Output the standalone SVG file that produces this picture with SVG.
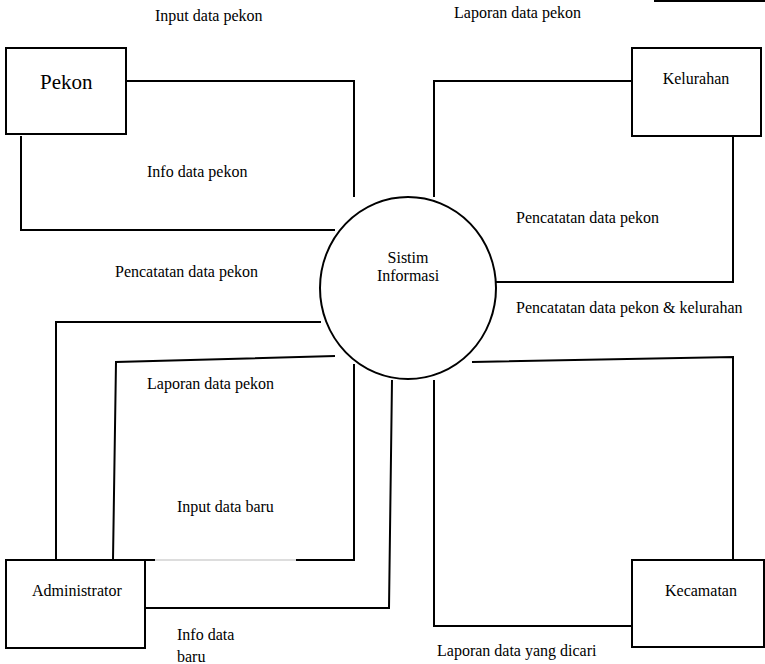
<svg xmlns="http://www.w3.org/2000/svg" width="765" height="664" viewBox="0 0 765 664">
<style>
  .box { fill: #fff; stroke: #000; stroke-width: 2; }
  .ln { fill: none; stroke: #000; stroke-width: 2; }
  .lbl { font-family: "Liberation Serif", "Times New Roman", serif; font-size: 16px; fill: #000; }
  .big { font-size: 21px; }
</style>
<rect width="765" height="664" fill="#fff"/>
<g id="connectors">
  <polyline class="ln" points="126,81 354,81 354,197"/>
  <polyline class="ln" points="21,136 21,230 335,230"/>
  <polyline class="ln" points="632,81 434,81 434,197"/>
  <polyline class="ln" points="733,136 733,282 496,282"/>
  <polyline class="ln" points="321,322 56,322 56,560"/>
  <polyline class="ln" points="335,356 116,362 113,560"/>
  <polyline class="ln" points="354,364 354,560 296,560"/>
  <line class="ln" x1="135" y1="560" x2="155" y2="560"/>
  <line x1="155" y1="560" x2="296" y2="560" stroke="#bbb" stroke-width="1"/>
  <polyline class="ln" points="392,380 389,608 145,608"/>
  <polyline class="ln" points="434,380 434,626 632,626"/>
  <polyline class="ln" points="472,362 733,357 733,560"/>
  <line class="ln" x1="654" y1="1" x2="765" y2="1"/>
</g>
<g id="pekon">
  <rect class="box" x="6" y="48" width="120" height="86"/>
  <text class="lbl big" x="40" y="89">Pekon</text>
</g>
<g id="kelurahan">
  <rect class="box" x="632" y="48" width="129" height="88"/>
  <text class="lbl" x="696" y="84" text-anchor="middle">Kelurahan</text>
</g>
<g id="sistim">
  <ellipse class="box" cx="408" cy="288" rx="88" ry="91"/>
  <text class="lbl" x="408" y="263" text-anchor="middle">Sistim</text>
  <text class="lbl" x="408" y="281" text-anchor="middle">Informasi</text>
</g>
<g id="administrator">
  <rect class="box" x="6" y="560" width="139" height="88"/>
  <text class="lbl" x="32" y="596">Administrator</text>
</g>
<g id="kecamatan">
  <rect class="box" x="632" y="560" width="132" height="87"/>
  <text class="lbl" x="665" y="596">Kecamatan</text>
</g>
<g id="labels">
  <text class="lbl" x="155" y="21">Input data pekon</text>
  <text class="lbl" x="454" y="18">Laporan data pekon</text>
  <text class="lbl" x="147" y="177">Info data pekon</text>
  <text class="lbl" x="516" y="223">Pencatatan data pekon</text>
  <text class="lbl" x="115" y="277">Pencatatan data pekon</text>
  <text class="lbl" x="516" y="313">Pencatatan data pekon &amp; kelurahan</text>
  <text class="lbl" x="147" y="389">Laporan data pekon</text>
  <text class="lbl" x="177" y="512">Input data baru</text>
  <text class="lbl" x="177" y="640">Info data</text>
  <text class="lbl" x="177" y="662">baru</text>
  <text class="lbl" x="437" y="656">Laporan data yang dicari</text>
</g>
</svg>
